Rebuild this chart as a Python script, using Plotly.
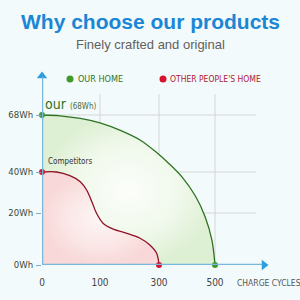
import numpy as np
import plotly.graph_objects as go

# ---- data ----
cycle_ticks = [0, 100, 300, 500]
cycle_labels = ["0", "100", "300", "500"]
wh_ticks = [0, 20, 40, 68]
wh_labels = ["0Wh", "20Wh", "40Wh", "68Wh"]

our_cycles = [0, 31, 66, 100, 169, 238, 290, 335, 384, 430, 465, 489, 500]
our_wh = [68, 67.6, 66.3, 64.1, 60.4, 55.5, 49.8, 44.2, 37.3, 28.3, 18.5, 9.6, 0]

other_cycles = [0, 25, 48, 66, 77, 86, 94, 111, 145, 191, 236, 269, 292, 300]
other_wh = [40, 40, 38.2, 35.3, 31.2, 25.5, 19.9, 16.0, 13.8, 12.2, 10.3, 7.7, 4.5, 0]

# ---- schematic (non-linear) axis scales: tick values are evenly laid out ----
X_POS = [0, 58, 117, 173]
Y_POS = [0, 52, 93, 150]


def sx(v):
    return np.interp(v, cycle_ticks, X_POS)


def sy(v):
    return np.interp(v, wh_ticks, Y_POS)


GREEN = "#2f7222"
GREEN_DOT = "#3e9a2a"
RED = "#8e1226"
RED_DOT = "#d7122e"
AXIS = "#7ab7dc"
ARROW = "#2a9ee0"
GRID = "#d6d6d6"
FONT_N = "Liberation Sans Narrow, DejaVu Sans Condensed, Roboto, sans-serif"

# plot-area pixel geometry (1 axis unit == 1 px)
L, B, R, T = 42, 35, 34, 76
W = 300 - L - R
H = 300 - B - T


def py(pix):  # page pixel row -> y units
    return 265 - pix


def px(pix):  # page pixel column -> x units
    return pix - L


def ppx(pix):  # page pixel column -> paper fraction
    return (pix - L) / W


def ppy(pix):  # page pixel row -> paper fraction
    return (300 - B - pix) / H


fig = go.Figure()

# green (our) area + line
fig.add_trace(go.Scatter(
    x=sx(our_cycles), y=sy(our_wh), mode="lines",
    line=dict(color=GREEN, width=1.3, shape="spline", smoothing=0.9),
    fill="tozeroy",
    fillgradient=dict(type="radial",
                      colorscale=[[0, "rgba(252,254,251,1)"], [0.6, "rgba(240,248,235,1)"],
                                  [1, "rgba(222,240,212,1)"]]),
    hoverinfo="skip", showlegend=False, cliponaxis=False))

# red (others) area + line
fig.add_trace(go.Scatter(
    x=sx(other_cycles), y=sy(other_wh), mode="lines",
    line=dict(color=RED, width=1.3, shape="spline", smoothing=0.9),
    fill="tozeroy",
    fillgradient=dict(type="radial",
                      colorscale=[[0, "rgba(253,246,246,1)"], [0.6, "rgba(251,230,230,1)"],
                                  [1, "rgba(248,216,216,1)"]]),
    hoverinfo="skip", showlegend=False, cliponaxis=False))

# grid lines (stop short of the arrows, as in the original)
shapes = []
for xv in X_POS[1:]:
    shapes.append(dict(type="line", xref="x", yref="y", x0=xv, x1=xv, y0=0, y1=py(94),
                       line=dict(color=GRID, width=1), layer="below"))
for yv in Y_POS[1:]:
    shapes.append(dict(type="line", xref="x", yref="y", x0=0, x1=px(256), y0=yv, y1=yv,
                       line=dict(color=GRID, width=1), layer="below"))
# axis lines
shapes.append(dict(type="line", xref="x", yref="y", x0=0, x1=px(262), y0=0, y1=0,
                   line=dict(color=AXIS, width=2.5)))
shapes.append(dict(type="line", xref="x", yref="y", x0=0, x1=0, y0=0, y1=py(77),
                   line=dict(color=AXIS, width=2.5)))
fig.update_layout(shapes=shapes)

# arrow heads
fig.add_trace(go.Scatter(x=[px(264), 0], y=[0, py(76)], mode="markers",
                         marker=dict(symbol=["triangle-right", "triangle-up"], size=9, color=ARROW),
                         hoverinfo="skip", showlegend=False, cliponaxis=False))

# end-point dots
fig.add_trace(go.Scatter(x=sx([our_cycles[0], our_cycles[-1]]), y=sy([our_wh[0], our_wh[-1]]),
                         mode="markers", marker=dict(size=6, color=GREEN_DOT),
                         hoverinfo="skip", showlegend=False, cliponaxis=False))
fig.add_trace(go.Scatter(x=sx([other_cycles[0], other_cycles[-1]]), y=sy([other_wh[0], other_wh[-1]]),
                         mode="markers", marker=dict(size=6, color=RED_DOT),
                         hoverinfo="skip", showlegend=False, cliponaxis=False))

# legend dots
fig.add_trace(go.Scatter(x=[px(70), px(163)], y=[py(79), py(79)], mode="markers",
                         marker=dict(size=7, color=[GREEN_DOT, RED_DOT]),
                         hoverinfo="skip", showlegend=False, cliponaxis=False))

ann = [
    dict(text="<b>Why choose our products</b>", x=150, y=22,
         font=dict(family="Liberation Sans, Arial, sans-serif", size=21, color="#1c86d6")),
    dict(text="Finely crafted and original", x=150, y=44,
         font=dict(family="Liberation Sans, Arial, sans-serif", size=13, color="#606060")),
    dict(text="OUR HOME", x=76, y=79, xanchor="left",
         font=dict(family=FONT_N, size=9, color=GREEN)),
    dict(text="OTHER PEOPLE'S HOME", x=168, y=79, xanchor="left",
         font=dict(family=FONT_N, size=8.5, color="#b01830")),
    dict(text="our <span style='font-size:8px;fill:#4a6a3a'>(68Wh)</span>", x=43, y=104, xanchor="left",
         font=dict(family=FONT_N, size=14, color=GREEN)),
    dict(text="Competitors", x=46, y=161, xanchor="left",
         font=dict(family=FONT_N, size=8, color="#333333")),
    dict(text="CHARGE CYCLES", x=235, y=283, xanchor="left",
         font=dict(family=FONT_N, size=8.5, color="#555555")),
]

final = []
for a in ann:
    final.append(dict(showarrow=False, xanchor=a.get("xanchor", "center"), yanchor="middle",
                      text=a["text"], font=a["font"], xref="paper", yref="paper",
                      x=ppx(a["x"]), y=ppy(a["y"])))
fig.update_layout(annotations=final)

fig.update_layout(
    width=300, height=300,
    margin=dict(l=L, r=R, t=T, b=B, pad=0, autoexpand=False),
    paper_bgcolor="#f3fafb", plot_bgcolor="rgba(0,0,0,0)",
    xaxis=dict(range=[0, W], showgrid=False, zeroline=False, showline=False, automargin=False,
               tickvals=[float(v) for v in sx(cycle_ticks)], ticktext=cycle_labels,
               ticks="", ticklen=0, tickfont=dict(family=FONT_N, size=10, color="#444444"),
               fixedrange=True),
    yaxis=dict(range=[0, H], showgrid=False, zeroline=False, showline=False, automargin=False,
               tickvals=[float(v) for v in sy(wh_ticks)], ticktext=wh_labels,
               ticks="outside", ticklen=5, tickcolor="#8aa6b8", tickwidth=1,
               tickfont=dict(family=FONT_N, size=9.5, color="#3a4a3a"),
               fixedrange=True),
    showlegend=False,
)
fig.update_xaxes(ticklabelstandoff=10)
fig.update_yaxes(ticklabelstandoff=1)

fig.write_html("out.html", config=dict(displayModeBar=False))
